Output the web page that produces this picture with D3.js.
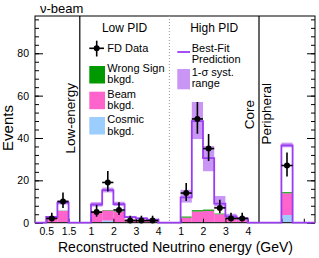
<!DOCTYPE html>
<html><head><meta charset="utf-8">
<script src="https://cdn.jsdelivr.net/npm/d3@7"></script>
<style>
html,body{margin:0;padding:0;background:#fff;}
svg{display:block;font-family:"Liberation Sans",Arial,Helvetica,sans-serif;}
</style></head><body>
<svg id="c" width="319" height="258"></svg>
<script>
// ---------------- data ----------------
const segments   = ["Low-energy", "Low PID", "High PID", "Peripheral"];
const binSeg     = [0, 0, 1, 1, 1, 1, 1, 1, 2, 2, 2, 2, 2, 2, 3];
const binLo      = [0.5, 1.0, 1.0, 1.5, 2.0, 2.5, 3.0, 3.5, 1.0, 1.5, 2.0, 2.5, 3.0, 3.5, 1.0];
const binHi      = [1.0, 1.5, 1.5, 2.0, 2.5, 3.0, 3.5, 4.0, 1.5, 2.0, 2.5, 3.0, 3.5, 4.0, 1.5];
const fdData     = [2, 10, 5, 19, 6, 1, 1, 1, 14, 49, 35, 7, 2, 2, 27];
const dataErrLo  = [1.29, 3.11, 2.16, 4.3, 2.38, 0.83, 0.83, 0.83, 3.7, 7.0, 5.9, 2.58, 1.29, 1.29, 5.2];
const dataErrHi  = [2.64, 4.26, 3.38, 5.4, 3.62, 2.3, 2.3, 2.3, 4.8, 8.0, 6.9, 3.85, 2.64, 2.64, 6.2];
const bestFit    = [2.7, 9.5, 8.6, 15.4, 8.8, 2.6, 2.0, 1.4, 12, 48, 30.5, 9, 3, 2, 36.5];
const systLo     = [2.3, 8.6, 7.6, 14.3, 7.9, 2.1, 1.6, 1.1, 9.5, 39.5, 24.3, 7.6, 2.3, 1.5, 35.6];
const systHi     = [3.1, 10.6, 9.7, 16.6, 9.9, 3.2, 2.5, 1.8, 15.5, 57.0, 36.2, 12.6, 4.2, 2.7, 37.8];
const cosmic     = [0.1, 0.3, 0.3, 1.0, 0.3, 0.1, 0.1, 0.1, 0.2, 0.3, 0.3, 0.2, 0.1, 0.1, 3.6];
const beam       = [2.1, 5.3, 5.0, 4.8, 5.0, 1.4, 1.1, 0.9, 2.2, 5.0, 5.3, 3.8, 2.3, 1.4, 10.3];
const wrongSign  = [0.05, 0.1, 0.1, 0.2, 0.2, 0.1, 0.05, 0.05, 0.5, 0.6, 0.6, 0.3, 0.1, 0.1, 0.5];
const tickSeg    = [0, 0, 1, 1, 1, 1, 2, 2, 2, 2, 3, 3];
const tickE      = [0.5, 1.5, 1, 2, 3, 4, 1, 2, 3, 4, 1, 2];
const tickLabels = ["0.5", "1.5", "1", "2", "3", "4", "1", "2", "3", "4", "", ""];
const yMajor     = [0, 20, 40, 60, 80];

// ---------------- layout ----------------
const segOffset = [0, 2, 6, 10];   // position of segment start on the concatenated axis
const segStart  = [0, 0.5, 0.5, 0];
const U = (s, e) => segOffset[s] + e - segStart[s];

const L = 35, R = 315, T = 16, B = 222.7;
const x = d3.scaleLinear().domain([0, 12.5]).range([L, R]);
const y = d3.scaleLinear().domain([0, 97.6]).range([B, T]);

const svg = d3.select("#c");
const C = {
  line: "#9a3cf2", band: "#c996f6", wrong: "#009a00",
  beam: "#ff63cc", cosmic: "#9ccdff"
};

const bins = fdData.map((d, i) => ({
  lo: U(binSeg[i], binLo[i]), hi: U(binSeg[i], binHi[i]),
  data: d, eLo: dataErrLo[i], eHi: dataErrHi[i],
  fit: bestFit[i], sLo: systLo[i], sHi: systHi[i],
  c: cosmic[i], b: beam[i], w: wrongSign[i]
}));

// syst band
svg.append("g").selectAll("rect").data(bins).join("rect")
  .attr("x", d => x(d.lo)).attr("width", d => x(d.hi) - x(d.lo))
  .attr("y", d => y(d.sHi)).attr("height", d => y(d.sLo) - y(d.sHi))
  .attr("fill", C.band);

// stacked backgrounds
const stackG = svg.append("g");
bins.forEach(d => {
  const parts = [[0, d.c, C.cosmic], [d.c, d.c + d.b, C.beam], [d.c + d.b, d.c + d.b + d.w, C.wrong]];
  parts.forEach(p => {
    stackG.append("rect").attr("x", x(d.lo)).attr("width", x(d.hi) - x(d.lo))
      .attr("y", y(p[1])).attr("height", y(p[0]) - y(p[1])).attr("fill", p[2]);
  });
});

// frame
svg.append("rect").attr("x", L).attr("y", T).attr("width", R - L).attr("height", B - T)
  .attr("fill", "none").attr("stroke", "#000").attr("stroke-width", 1);

// separators
[2, 10].forEach(u => svg.append("line").attr("x1", x(u)).attr("x2", x(u)).attr("y1", T).attr("y2", B)
  .attr("stroke", "#000").attr("stroke-width", 1.2));
svg.append("line").attr("x1", x(6)).attr("x2", x(6)).attr("y1", T).attr("y2", B)
  .attr("stroke", "#999").attr("stroke-width", 1).attr("stroke-dasharray", "1,2");

// y axis (left, inward ticks)
const minor = d3.range(0, 97.6, 4);
const yl = svg.append("g").attr("transform", `translate(${L},0)`);
yl.call(d3.axisLeft(y).tickValues(minor).tickSizeInner(-4).tickSizeOuter(0).tickFormat(""));
yl.call(g => g.select(".domain").remove());
const ylM = svg.append("g").attr("transform", `translate(${L},0)`);
ylM.call(d3.axisLeft(y).tickValues(yMajor).tickSizeInner(-8).tickSizeOuter(0).tickPadding(6));
ylM.call(g => g.select(".domain").remove());
ylM.selectAll("text").attr("font-size", 10.5).attr("font-family", null).attr("fill", "#000");

// y axis (right mirror)
const yr = svg.append("g").attr("transform", `translate(${R},0)`);
yr.call(d3.axisRight(y).tickValues(minor).tickSizeInner(-4).tickSizeOuter(0).tickFormat(""));
yr.call(g => g.select(".domain").remove());
const yrM = svg.append("g").attr("transform", `translate(${R},0)`);
yrM.call(d3.axisRight(y).tickValues(yMajor).tickSizeInner(-8).tickSizeOuter(0).tickFormat(""));
yrM.call(g => g.select(".domain").remove());

// x axis
const tickU = tickE.map((e, i) => U(tickSeg[i], e));
const xa = svg.append("g").attr("transform", `translate(0,${B})`);
xa.call(d3.axisBottom(x).tickValues(tickU).tickSizeInner(-4).tickSizeOuter(0).tickPadding(4.5)
  .tickFormat((d, i) => tickLabels[i]));
xa.call(g => g.select(".domain").remove());
xa.selectAll("text").attr("font-size", 10.5).attr("font-family", null).attr("fill", "#000");

// best-fit histogram (step line)
const pts = [{u: 0, v: 0}];
bins.forEach((d, i) => {
  pts.push({u: d.lo, v: d.fit});
  const next = bins[i + 1];
  if (!next || next.lo > d.hi) pts.push({u: d.hi, v: 0});
});
pts.push({u: 12.5, v: 0});
svg.append("path").datum(pts)
  .attr("d", d3.line().x(p => x(p.u)).y(p => y(p.v)).curve(d3.curveStepAfter))
  .attr("fill", "none").attr("stroke", C.line).attr("stroke-width", 1.8);

// data points
const dg = svg.append("g").attr("stroke", "#000").attr("stroke-width", 1.6);
bins.forEach(d => {
  const cx = x((d.lo + d.hi) / 2);
  dg.append("line").attr("x1", x(d.lo)).attr("x2", x(d.hi)).attr("y1", y(d.data)).attr("y2", y(d.data));
  dg.append("line").attr("x1", cx).attr("x2", cx).attr("y1", y(d.data + d.eHi)).attr("y2", y(Math.max(0, d.data - d.eLo)));
  dg.append("circle").attr("cx", cx).attr("cy", y(d.data)).attr("r", 3).attr("fill", "#000").attr("stroke", "none");
});

// texts
const txt = (tx, ty, s, size, anchor, rot) => {
  const t = svg.append("text").attr("x", tx).attr("y", ty).attr("font-size", size)
    .attr("text-anchor", anchor || "start").attr("fill", "#000").text(s);
  if (rot) t.attr("transform", `rotate(-90,${tx},${ty})`).attr("x", tx).attr("y", ty);
  return t;
};
txt(40, 12.7, "ν-beam", 13);
txt(12.5, 128, "Events", 15, "middle", true);
txt(175.5, 251.5, "Reconstructed Neutrino energy (GeV)", 14, "middle");
txt(x(4), 31.7, segments[1], 12, "middle");
txt(x(8), 31.7, segments[2], 12, "middle");
txt(75, 83, segments[0], 13.5, "end", true);
txt(254, 100, "Core", 13.5, "end", true);
txt(270.5, 83, segments[3], 13.5, "end", true);

// legend left
const lg = svg.append("g");
lg.append("line").attr("x1", 89.3).attr("x2", 104).attr("y1", 48.3).attr("y2", 48.3).attr("stroke", "#000").attr("stroke-width", 1.6);
lg.append("line").attr("x1", 96.7).attr("x2", 96.7).attr("y1", 40.7).attr("y2", 56.5).attr("stroke", "#000").attr("stroke-width", 1.6);
lg.append("circle").attr("cx", 96.7).attr("cy", 48.3).attr("r", 3).attr("fill", "#000");
txt(107.3, 52.3, "FD Data", 11);
[[66, C.wrong, "Wrong Sign", 71.7], [91.7, C.beam, "Beam", 97.5], [117, C.cosmic, "Cosmic", 123.3]].forEach(e => {
  lg.append("rect").attr("x", 89.3).attr("y", e[0]).attr("width", 15.7).attr("height", 17.5).attr("fill", e[1]);
  txt(107.3, e[3], e[2], 11);
  txt(107.3, e[3] + 11.7, "bkgd.", 11);
});
// legend right
lg.append("line").attr("x1", 177.3).attr("x2", 190).attr("y1", 52).attr("y2", 52).attr("stroke", C.line).attr("stroke-width", 1.8);
txt(191.7, 52.3, "Best-Fit", 11);
txt(191.7, 63, "Prediction", 11);
lg.append("rect").attr("x", 177.3).attr("y", 69).attr("width", 12.7).attr("height", 20.3).attr("fill", C.band);
txt(191.7, 76, "1-σ syst.", 11);
txt(191.7, 86.5, "range", 11);
</script>
</body></html>
